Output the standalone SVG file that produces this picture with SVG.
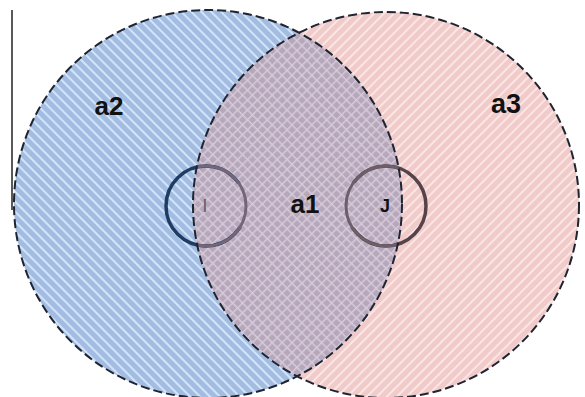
<svg xmlns="http://www.w3.org/2000/svg" width="585" height="397" viewBox="0 0 585 397">
<style>
.outline{fill:none;stroke:#1e2430;stroke-width:2;stroke-dasharray:9 4}
.lbl{font-family:"Liberation Sans",Arial,sans-serif;font-weight:bold;fill:#111}
</style>
<defs>
<pattern id="blueHatch" patternUnits="userSpaceOnUse" width="7" height="7" patternTransform="rotate(-45)">
<rect width="7" height="7" fill="#a3bce2"/>
<rect x="0" y="0" width="2" height="7" fill="#d3e4f8"/>
</pattern>
<pattern id="pinkHatch" patternUnits="userSpaceOnUse" width="7" height="7" patternTransform="rotate(45)">
<rect width="7" height="7" fill="#f1cbca"/>
<rect x="0" y="0" width="2" height="7" fill="#fae6e4"/>
</pattern>
<pattern id="crossHatch" patternUnits="userSpaceOnUse" width="7" height="7" patternTransform="rotate(45)">
<rect width="7" height="7" fill="#b6a7bc"/>
<rect x="0" y="0" width="1.5" height="7" fill="#d6cbd8"/>
<rect x="0" y="0" width="7" height="1.5" fill="#d6cbd8"/>
</pattern>
<clipPath id="blueClip"><circle cx="208" cy="204" r="194"/></clipPath>
<clipPath id="lensClip"><circle cx="386" cy="205" r="193" clip-path="url(#blueClip)"/></clipPath>
<clipPath id="outsideLens"><path clip-rule="evenodd" d="M0 0H585V397H0Z M193 205 A193 193 0 0 1 402 205 A193 193 0 0 1 193 205Z"/></clipPath>
</defs>

<line x1="12" y1="10" x2="12" y2="210" stroke="#222" stroke-width="1.5"/>

<g id="a2">
<circle cx="208" cy="204" r="194" fill="url(#blueHatch)"/>
</g>
<g id="a3">
<circle cx="386" cy="205" r="193" fill="url(#pinkHatch)"/>
</g>
<g id="a1">
<g clip-path="url(#blueClip)">
<circle cx="386" cy="205" r="193" fill="url(#crossHatch)"/>
</g>
</g>

<g id="I">
<circle cx="206" cy="206" r="40" fill="none" stroke="#1f3d63" stroke-width="3.5" clip-path="url(#outsideLens)"/>
<g clip-path="url(#blueClip)"><circle cx="206" cy="206" r="40" fill="none" stroke="#746678" stroke-width="3" clip-path="url(#lensClip)"/></g>
<text class="lbl" x="205" y="212" font-size="19" text-anchor="middle" style="font-weight:normal;fill:#6e5e6c">I</text>
</g>
<g id="J">
<circle cx="386" cy="206" r="40" fill="none" stroke="#56444a" stroke-width="3.5" clip-path="url(#outsideLens)"/>
<g clip-path="url(#blueClip)"><circle cx="386" cy="206" r="40" fill="none" stroke="#6e5e6a" stroke-width="3" clip-path="url(#lensClip)"/></g>
<text class="lbl" x="385" y="212" font-size="18" text-anchor="middle">J</text>
</g>

<g id="outlines">
<circle class="outline" cx="208" cy="204" r="194"/>
<circle class="outline" cx="386" cy="205" r="193"/>
</g>

<text class="lbl" x="109" y="115" font-size="26" text-anchor="middle">a2</text>
<text class="lbl" x="305" y="213" font-size="26" text-anchor="middle">a1</text>
<text class="lbl" x="506" y="113" font-size="27" text-anchor="middle">a3</text>
</svg>
